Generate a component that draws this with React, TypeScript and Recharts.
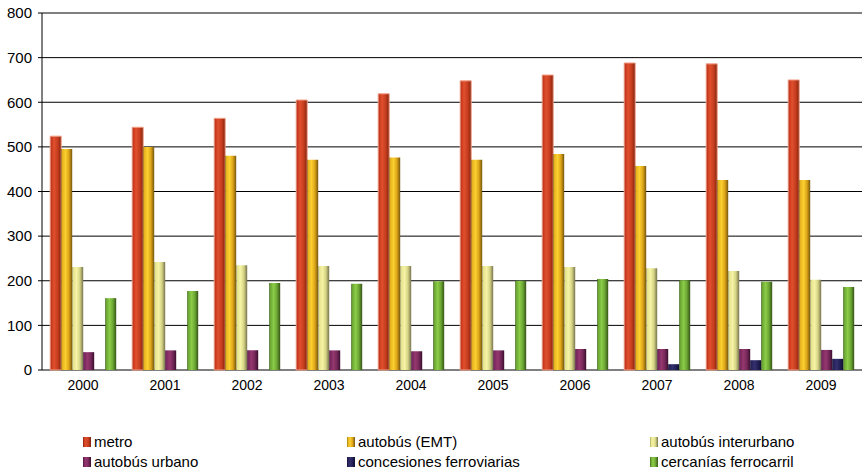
import React from 'react';
import { BarChart, Bar, XAxis, YAxis, CartesianGrid, Legend, ReferenceLine } from 'recharts';

const years = ['2000', '2001', '2002', '2003', '2004', '2005', '2006', '2007', '2008', '2009'];
const metro = [524, 544, 564, 605, 619, 648, 661, 688, 686, 650];
const autobusEMT = [495, 500, 480, 471, 476, 471, 484, 457, 426, 426];
const autobusInterurbano = [231, 242, 235, 233, 233, 233, 231, 228, 222, 202];
const autobusUrbano = [40, 44, 44, 44, 42, 44, 47, 47, 47, 45];
const concesiones = [0, 0, 0, 0, 0, 0, 0, 13, 22, 25];
const cercanias = [161, 177, 195, 193, 199, 200, 204, 201, 198, 186];
const yTicks = [0, 100, 200, 300, 400, 500, 600, 700, 800];
const boundaryTicks = [0, 1, 2, 3, 4, 5, 6, 7, 8, 9, 10];

const seriesNames = [
  'metro',
  'autobús (EMT)',
  'autobús interurbano',
  'autobús urbano',
  'concesiones ferroviarias',
  'cercanías ferrocarril',
];
const seriesKeys = ['metro', 'emt', 'inter', 'urbano', 'conc', 'cerc'];
const seriesValues = [metro, autobusEMT, autobusInterurbano, autobusUrbano, concesiones, cercanias];

const data = years.map((y, i) => {
  const row: Record<string, string | number> = { year: y };
  seriesKeys.forEach((k, s) => {
    row[k] = seriesValues[s][i];
  });
  return row;
});

type Stop = [string, number];
const gradients: Stop[][] = [
  [['#7a1c0c', 0], ['#c83a1e', 0.12], ['#e0502e', 0.35], ['#c43c1e', 0.7], ['#7e220e', 1]],
  [['#8a6a10', 0], ['#e8b420', 0.12], ['#fcd030', 0.4], ['#dca418', 0.7], ['#74560e', 1]],
  [['#9a9860', 0], ['#e6e490', 0.12], ['#f6f4a4', 0.4], ['#d4d284', 0.7], ['#76744c', 1]],
  [['#4a1236', 0], ['#7a2860', 0.12], ['#94386e', 0.4], ['#76285a', 0.7], ['#3a0e2c', 1]],
  [['#141238', 0], ['#26225a', 0.12], ['#34306e', 0.4], ['#222056', 0.7], ['#100e30', 1]],
  [['#3e6018', 0], ['#6ca834', 0.12], ['#8ccc48', 0.4], ['#6ca634', 0.7], ['#365416', 1]],
];

const FONT = '"Liberation Sans", Arial, sans-serif';

const cssGradient = (stops: Stop[]) =>
  `linear-gradient(to right, ${stops.map(([c, o]) => `${c} ${o * 100}%`).join(', ')})`;

const legendCols = [83, 347, 650];
const legendRows = [2, 22];

const LegendContent = () => (
  <div style={{ position: 'relative', width: 865, height: 44, fontFamily: FONT }}>
    {seriesNames.map((name, i) => (
      <div
        key={name}
        style={{
          position: 'absolute',
          left: legendCols[i % 3],
          top: legendRows[Math.floor(i / 3)],
          height: 20,
          lineHeight: '20px',
          display: 'flex',
          alignItems: 'center',
          whiteSpace: 'nowrap',
          fontSize: 15,
          color: '#000',
        }}
      >
        <span
          style={{
            display: 'inline-block',
            width: 8,
            height: 10,
            background: cssGradient(gradients[i]),
            marginRight: 3,
          }}
        />
        <span>{name}</span>
      </div>
    ))}
  </div>
);

const EmptyTick = () => <g />;

export default function App() {
  return (
    <div style={{ position: 'absolute', left: 0, top: 0, width: 865, height: 474, background: '#fff' }}>
      <BarChart
        width={865}
        height={474}
        data={data}
        margin={{ top: 13, right: 3, left: 0, bottom: 84 }}
        barCategoryGap="10%"
        barGap={0}
      >
        <defs>
          {gradients.map((stops, i) => (
            <linearGradient key={i} id={`grad${i}`} x1="0" y1="0" x2="1" y2="0">
              {stops.map(([c, o], j) => (
                <stop key={j} offset={o} stopColor={c} />
              ))}
            </linearGradient>
          ))}
        </defs>
        <CartesianGrid vertical={false} stroke="#000" strokeWidth={1} xAxisId="num" />
        <XAxis
          xAxisId="num"
          type="number"
          domain={[0, 10]}
          ticks={boundaryTicks}
          height={0}
          tick={EmptyTick}
          tickSize={5}
          tickLine={{ stroke: '#000' }}
          axisLine={{ stroke: '#555', strokeWidth: 1.5 }}
          allowDataOverflow
        />
        <XAxis
          xAxisId="cat"
          dataKey="year"
          height={20}
          axisLine={false}
          tickLine={false}
          tickSize={5}
          tickMargin={5}
          interval={0}
          tick={{ fontSize: 14, fill: '#000', fontFamily: FONT }}
        />
        <YAxis
          width={42}
          domain={[0, 800]}
          ticks={yTicks}
          interval={0}
          tickSize={4}
          tickMargin={6}
          axisLine={{ stroke: '#000' }}
          tickLine={{ stroke: '#000' }}
          tick={{ fontSize: 15, fill: '#000', fontFamily: FONT }}
        />
        <ReferenceLine xAxisId="num" y={800} stroke="#808080" strokeWidth={1.5} />
        <ReferenceLine xAxisId="num" x={10} stroke="#909090" strokeWidth={1.5} />
        {seriesKeys.map((k, i) => (
          <Bar
            key={k}
            xAxisId="cat"
            dataKey={k}
            name={seriesNames[i]}
            fill={`url(#grad${i})`}
            stroke={i === 0 ? '#f2a088' : undefined}
            strokeWidth={i === 0 ? 1 : 0}
            isAnimationActive={false}
          />
        ))}
        <Legend
          layout="horizontal"
          verticalAlign="middle"
          align="center"
          wrapperStyle={{ left: 0, top: 430, width: 865, height: 44 }}
          content={LegendContent}
        />
      </BarChart>
    </div>
  );
}
